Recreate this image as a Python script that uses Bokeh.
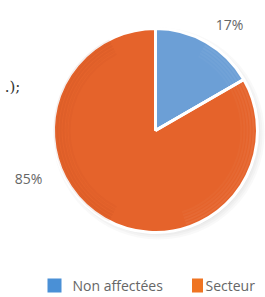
import numpy as np
from bokeh.plotting import figure
from bokeh.models import Range1d, ColumnDataSource
from bokeh.core.properties import value
from bokeh.embed import file_html
from bokeh.resources import INLINE

categories = ["Non affectées", "Secteur"]
values = [17, 85]
labels = ["17%", "85%"]
colors = ["#6c9fd6", "#e5632b"]
legend_colors = ["#4a90d6", "#ef7422"]

W, H = 265, 297
p = figure(width=W, height=H, output_backend="svg", toolbar_location=None,
           x_range=Range1d(0, W), y_range=Range1d(0, H),
           min_border=0)
p.axis.visible = False
p.grid.visible = False
p.outline_line_color = None
p.background_fill_color = "white"
p.border_fill_color = "white"

cx, cy, r = 155, 297 - 130, 102

# pie wedges, clockwise from 12 o'clock
vals = np.array(values, dtype=float)
frac = vals / vals.sum()
ends = np.pi / 2 - np.concatenate([[0], np.cumsum(frac)[:-1]]) * 2 * np.pi
starts = ends - frac * 2 * np.pi

# soft shadow
for k in range(4):
    p.circle(x=cx + 3, y=cy - 3, radius=r + 4 - k * 2, fill_color="#808080",
             fill_alpha=0.05, line_color=None)

src = ColumnDataSource(dict(start=list(starts), end=list(ends), color=colors))
p.wedge(x=cx, y=cy, radius=r, start_angle="start", end_angle="end",
        fill_color="color", line_color="white", line_width=3, source=src)

# subtle rim shading
for k in range(6):
    p.annular_wedge(x=cx, y=cy, inner_radius=r - 2 - k * 3, outer_radius=r - k * 3,
                    start_angle=-np.pi / 2.5, end_angle=np.pi / 3,
                    fill_color="white", fill_alpha=0.05 * (6 - k) / 6 + 0.02,
                    line_color=None)
for k in range(6):
    p.annular_wedge(x=cx, y=cy, inner_radius=r - 2 - k * 3, outer_radius=r - k * 3,
                    start_angle=np.pi * 0.65, end_angle=np.pi * 1.35,
                    fill_color="#7a2a10", fill_alpha=0.06 * (6 - k) / 6 + 0.02,
                    line_color=None)
# redraw separator lines
for a in [starts[0], ends[0]]:
    p.segment(x0=cx, y0=cy, x1=cx + r * np.cos(a), y1=cy + r * np.sin(a),
              line_color="white", line_width=3)

# percentage labels
p.text(x=[229, 28], y=[297 - 24, 297 - 178], text=labels,
       text_font=value("Open Sans"), text_font_size="14px", text_color="#666666",
       text_align="center", text_baseline="middle")

# cropped text fragment
p.text(x=[12], y=[297 - 86], text=[".);"], text_font=value("DejaVu Serif"),
       text_font_size="15px", text_color="#333333", text_align="center",
       text_baseline="middle")

# legend
ly = 297 - 285
p.rect(x=[54, 197], y=[ly, ly], width=[14, 11], height=14,
       fill_color=legend_colors, line_color=None)
p.text(x=[72, 205], y=[ly, ly], text=categories, text_font=value("Open Sans"),
       text_font_size="14px", text_color="#666666", text_align="left",
       text_baseline="middle")

open("out.html", "w").write(file_html(p, INLINE))
